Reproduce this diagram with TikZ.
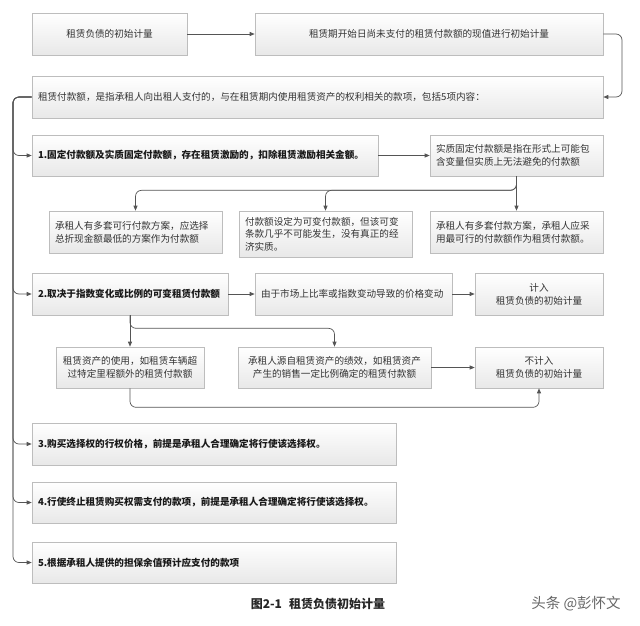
\documentclass[tikz,border=0pt]{standalone}
\usepackage{fontspec}
\setmainfont{Noto Sans CJK SC}
\usetikzlibrary{arrows.meta,shadows}
\definecolor{linec}{HTML}{555555}
\definecolor{txt}{HTML}{333333}
\definecolor{bordc}{HTML}{BDBDBD}
\tikzset{
  box/.style={draw=bordc, line width=0.6pt, top color=white, bottom color=black!9,
    drop shadow={shadow xshift=1pt, shadow yshift=-1.2pt, opacity=0.3, fill=black!60},
    inner xsep=6pt, inner ysep=3pt, font=\fontsize{9.6}{13}\selectfont, text=txt,
    minimum height=42pt},
  lbox/.style={box, align=left},
  cbox/.style={box, align=center},
  numbox/.style={box, font=\bfseries\fontsize{9.6}{13}\selectfont, text=black!90, align=left},
  conn/.style={draw=linec, line width=0.7pt, -{Triangle[length=5pt,width=4pt]}},
  rconn/.style={conn, rounded corners=6pt}
}
\begin{document}
\begin{tikzpicture}[x=1pt,y=-1pt]
\useasboundingbox (0,0) rectangle (640,625);
% row 1
\node[cbox, minimum width=155pt] (A) at (109.5,34) {租赁负债的初始计量};
\node[cbox, minimum width=348pt] (B) at (429,34) {租赁期开始日尚未支付的租赁付款额的现值进行初始计量};
\node[lbox, text width=559pt] (C) at (317.5,97) {租赁付款额，是指承租人向出租人支付的，与在租赁期内使用租赁资产的权利相关的款项，包括5项内容：};
% item 1
\node[numbox, text width=334pt, minimum height=41pt] (b1) at (205,155.5) {1.固定付款额及实质固定付款额，存在租赁激励的，扣除租赁激励相关金额。};
\node[lbox, text width=161pt, minimum height=41pt] (D) at (516.5,155.5) {实质固定付款额是指在形式上可能包\\含变量但实质上无法避免的付款额};
\node[lbox, text width=161pt] (E1) at (135.5,232) {承租人有多套可行付款方案，应选择\\总折现金额最低的方案作为付款额};
\node[lbox, text width=161pt, minimum height=46pt, font=\fontsize{9.6}{12.5}\selectfont] (E2) at (325.5,234) {付款额设定为可变付款额，但该可变\\条款几乎不可能发生，没有真正的经\\济实质。};
\node[lbox, text width=161pt] (E3) at (516.5,232) {承租人有多套付款方案，承租人应采\\用最可行的付款额作为租赁付款额。};
% item 2
\node[numbox, text width=184pt] (b2) at (130,294) {2.取决于指数变化或比例的可变租赁付款额};
\node[lbox, text width=185pt] (F) at (353.5,294) {由于市场上比率或指数变动导致的价格变动};
\node[cbox, minimum width=128pt] (G) at (539,294) {计入\\租赁负债的初始计量};
\node[cbox, minimum width=148pt, minimum height=41pt] (H) at (130,367.5) {租赁资产的使用，如租赁车辆超\\过特定里程额外的租赁付款额};
\node[cbox, minimum width=193pt, minimum height=41pt] (I) at (334.5,367.5) {承租人源自租赁资产的绩效，如租赁资产\\产生的销售一定比例确定的租赁付款额};
\node[cbox, minimum width=128pt, minimum height=41pt] (J) at (539,367.5) {不计入\\租赁负债的初始计量};
% items 3-5
\node[numbox, text width=352pt] (b3) at (214,444) {3.购买选择权的行权价格，前提是承租人合理确定将行使该选择权。};
\node[numbox, text width=352pt, minimum height=41pt] (b4) at (214,502.5) {4.行使终止租赁购买权需支付的款项，前提是承租人合理确定将行使该选择权。};
\node[numbox, text width=352pt, minimum height=41pt] (b5) at (214,562.5) {5.根据承租人提供的担保余值预计应支付的款项};
% caption and watermark
\node[font=\bfseries\fontsize{12}{14}\selectfont, text=black!85] (cap) at (318,604) {图2-1\hspace{0.6em}租赁负债初始计量};
\node[font=\fontsize{14.5}{16}\selectfont, text=black!60] (wm) at (576,604) {头条 @彭怀文};
% connectors
\coordinate (br) at (622,34);
\coordinate (tr) at (13,97);
\draw[conn] (A) -- (B);
\draw[rconn] (B.east) -- (br) |- (C.east);
\draw[rconn] (C.west) -- (tr) |- (b1.west);
\draw[rconn] (C.west) -- (tr) |- (b2.west);
\draw[rconn] (C.west) -- (tr) |- (b3.west);
\draw[rconn] (C.west) -- (tr) |- (b4.west);
\draw[rconn] (C.west) -- (tr) |- (b5.west);
\draw[conn] (b1) -- (D);
\draw[rconn] (D.south) -- ++(0,14) -| (E1.north);
\draw[rconn] (D.south) -- ++(0,14) -| (E2.north);
\draw[conn] (D.south) -- (E3.north);
\draw[conn] (b2) -- (F);
\draw[conn] (F) -- (G);
\draw[conn] (b2.south) -- (H.north);
\draw[rconn] (b2.south) -- ++(0,13) -| (I.north);
\draw[conn] (I) -- (J);
\draw[rconn] (H.south) -- ++(0,19) -| (J.south);
\end{tikzpicture}
\end{document}
